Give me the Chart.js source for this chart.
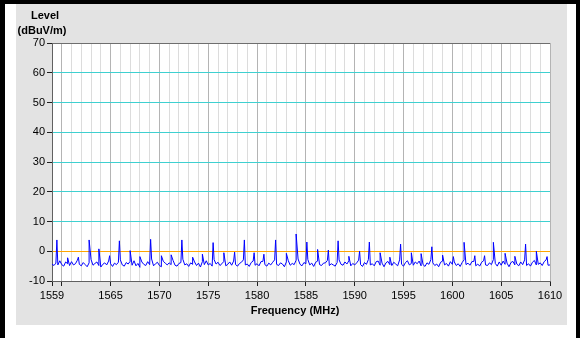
<!DOCTYPE html>
<html>
<head>
<meta charset="utf-8">
<script src="https://cdn.jsdelivr.net/npm/chart.js@4/dist/chart.umd.min.js"></script>
<style>
  html, body { margin: 0; padding: 0; background: #000; }
  canvas { display: block; }
</style>
</head>
<body>
<canvas id="spectrum" width="580" height="338"></canvas>
<script>
// Spectrum scan 1559 - 1610 MHz

// noise floor, one value every 0.2 MHz starting at 1559.0
const floorStart = 1559;
const floorStep = 0.2;
const floorLevels = [
  -4.3, -4.8, -4.0, -4.6, -3.2,
  -4.5, -5.0, -3.6, -4.2, -4.8,
  -3.5, -4.6, -4.2, -3.0, -4.4,
  -4.9, -3.8, -4.5, -5.2, -3.9,
  -2.8, -4.7, -4.1, -3.6, -4.8,
  -5.3, -4.4, -3.9, -4.6, -3.3,
  -4.2, -5.1, -4.0, -4.5, -3.7,
  -2.9, -4.6, -5.0, -3.8, -4.3,
  -3.4, -4.7, -3.2, -4.9, -4.1,
  -5.4, -3.6, -4.4, -4.8, -3.5,
  -4.5, -2.6, -4.9, -4.2, -3.7,
  -4.8, -5.2, -3.4, -4.0, -4.6,
  -3.9, -4.5, -3.1, -4.7, -5.0,
  -4.1, -3.8, -2.7, -4.6, -4.2,
  -5.1, -3.9, -4.4, -3.6, -4.8,
  -4.0, -5.3, -3.5, -4.5, -3.2,
  -4.6, -4.1, -5.0, -2.8, -4.3,
  -3.7, -4.8, -4.2, -3.4, -4.9,
  -4.4, -3.6, -4.7, -3.3, -4.5,
  -5.0, -4.1, -3.7, -2.9, -4.6,
  -4.3, -5.1, -3.8, -3.3, -4.7,
  -4.2, -4.9, -3.5, -3.4, -4.5,
  -5.0, -4.0, -4.6, -3.7, -2.9,
  -4.4, -4.8, -3.9, -4.3, -5.2,
  -3.6, -3.2, -4.7, -4.1, -4.5,
  -3.0, -2.6, -4.4, -4.9, -3.8,
  -4.2, -2.8, -4.6, -4.0, -5.1,
  -3.7, -3.3, -4.5, -4.8, -4.0,
  -3.9, -3.1, -4.8, -4.2, -4.6,
  -5.0, -3.8, -2.9, -4.4, -4.7,
  -3.6, -4.3, -3.2, -4.9, -4.1,
  -4.6, -3.9, -3.0, -4.5, -5.1,
  -3.8, -4.4, -2.8, -4.6, -4.2,
  -4.9, -3.5, -3.3, -4.7, -4.0,
  -5.2, -3.9, -3.4, -4.5, -4.8,
  -3.7, -4.3, -4.9, -2.9, -4.4,
  -5.0, -3.8, -3.2, -4.6, -4.1,
  -4.7, -3.6, -4.2, -3.3, -4.9,
  -4.5, -5.1, -3.9, -4.4, -2.8,
  -3.9, -4.8, -4.3, -5.2, -3.7,
  -3.3, -4.6, -4.1, -5.0, -3.5,
  -4.4, -3.6, -4.8, -4.2, -5.1,
  -3.8, -2.9, -4.5, -4.0, -4.7,
  -3.5, -3.4, -4.9, -4.3, -5.0,
  -3.7, -3.2, -4.6, -4.8, -3.9,
  -4.5, -2.8, -4.1, -5.0, -3.6,
  -4.7, -3.3, -4.4, -4.0, -5.2,
  -3.8, -3.4, -4.6, -4.3, -4.9,
  -3.6, -4.5, -2.9, -4.8, -4.2,
  -5.0, -3.7, -3.1, -4.6, -4.4,
  -3.9, -4.8, -3.5, -2.9, -4.7,
  -4.6
];

// narrow spurs sitting on the floor
const spurFreqs = [
  1559.5, 1560.6, 1561.7, 1562.8, 1563.8, 1564.9, 1565.9, 1567.0, 1568.0, 1569.1,
  1570.2, 1571.2, 1572.3, 1573.4, 1574.4, 1575.5, 1576.6, 1577.7, 1578.7, 1579.7,
  1580.7, 1581.9, 1583.0, 1584.0, 1585.1, 1586.2, 1587.3, 1588.3, 1589.4, 1590.5,
  1591.5, 1592.6, 1593.6, 1594.7, 1595.8, 1596.8, 1597.9, 1599.0, 1600.1, 1601.2,
  1602.3, 1603.3, 1604.2, 1605.4, 1606.4, 1607.5, 1608.6, 1609.7
];
const spurLevels = [
  3.8, -2.2, -2.0, 3.8, 0.8, -1.5, 3.5, 0.2, -1.8, 4.0,
  -1.5, -1.2, 3.8, -2.0, -1.0, 2.9, -0.5, -0.3, 3.8, -0.5,
  -1.0, 3.8, -0.7, 5.8, 3.1, 0.6, 0.4, 3.5, -1.7, 0.0,
  3.1, -0.5, -2.0, 2.4, -0.5, -0.8, 1.5, -1.3, -1.8, 3.0,
  -1.5, -1.5, 3.0, -0.7, -1.7, 2.4, 0.0, -1.8
];

// axis ticks
const yTicks = [-10, 0, 10, 20, 30, 40, 50, 60, 70];
const xMajorTicks = [1559, 1560, 1565, 1570, 1575, 1580, 1585, 1590, 1595, 1600, 1605, 1610];
const xLabels = [1559, 1565, 1570, 1575, 1580, 1585, 1590, 1595, 1600, 1605, 1610];

const FONT = 'Liberation Sans, Arial, sans-serif';

function buildTrace() {
  const pts = floorLevels.map((v, i) => ({ x: +(floorStart + i * floorStep).toFixed(1), y: v }));
  spurFreqs.forEach((f, i) => pts.push({ x: f, y: spurLevels[i] }));
  pts.sort((a, b) => a.x - b.x);
  return pts;
}

const frame = {
  id: 'frame',
  beforeDraw(chart) {
    const c = chart.ctx;
    const a = chart.chartArea;
    c.save();
    c.fillStyle = '#000';
    c.fillRect(0, 0, 580, 338);
    c.fillStyle = '#fff';
    c.fillRect(5, 4, 571, 334);
    c.fillStyle = '#e3e3e3';
    c.fillRect(16, 4, 551, 321);
    c.fillStyle = '#fff';
    c.fillRect(a.left, a.top, a.right - a.left, a.bottom - a.top);
    c.restore();
  },
  afterDraw(chart) {
    const c = chart.ctx;
    c.save();
    c.fillStyle = '#000';
    c.font = 'bold 11px ' + FONT;
    c.textAlign = 'center';
    c.textBaseline = 'middle';
    c.fillText('Level', 45, 16);
    c.fillText('(dBuV/m)', 42, 31);
    c.fillText('Frequency (MHz)', 295, 311);
    c.restore();
  }
};

new Chart(document.getElementById('spectrum'), {
  type: 'line',
  data: {
    datasets: [{
      data: buildTrace(),
      borderColor: '#0000ff',
      borderWidth: 1,
      pointRadius: 0,
      tension: 0,
      fill: false
    }]
  },
  options: {
    responsive: false,
    devicePixelRatio: 1,
    animation: false,
    layout: { padding: { top: 43, right: 30, bottom: 0, left: 0 } },
    plugins: { legend: { display: false }, tooltip: { enabled: false } },
    scales: {
      x: {
        type: 'linear',
        min: 1559,
        max: 1610,
        afterBuildTicks: s => {
          const t = [];
          for (let v = 1559; v <= 1610; v++) t.push({ value: v });
          s.ticks = t;
        },
        afterFit: s => { s.height = 57; },
        ticks: {
          autoSkip: false,
          maxRotation: 0,
          color: '#000',
          font: { family: FONT, size: 11 },
          padding: 3,
          callback: v => xLabels.includes(v) ? String(v) : ''
        },
        grid: {
          color: ctx => (ctx.tick && ctx.tick.value % 5 === 0) ? '#b4b4b4' : '#dcdcdc',
          tickColor: ctx => (ctx.tick && xMajorTicks.includes(ctx.tick.value)) ? '#202020' : 'rgba(0,0,0,0)',
          tickLength: 5,
          lineWidth: 1
        },
        border: { color: '#606060' }
      },
      y: {
        min: -10,
        max: 70,
        afterBuildTicks: s => { s.ticks = yTicks.map(v => ({ value: v })); },
        afterFit: s => { s.width = 52; },
        ticks: {
          color: '#000',
          font: { family: FONT, size: 11 },
          padding: 2
        },
        grid: {
          color: ctx => {
            const v = ctx.tick ? ctx.tick.value : null;
            if (v === 0) return '#ffa500';
            if (v === 70 || v === -10) return '#6e6e6e';
            return '#3fd0d0';
          },
          tickColor: '#202020',
          tickLength: 5,
          lineWidth: 1
        },
        border: { color: '#606060' }
      }
    }
  },
  plugins: [frame]
});
</script>
</body>
</html>
